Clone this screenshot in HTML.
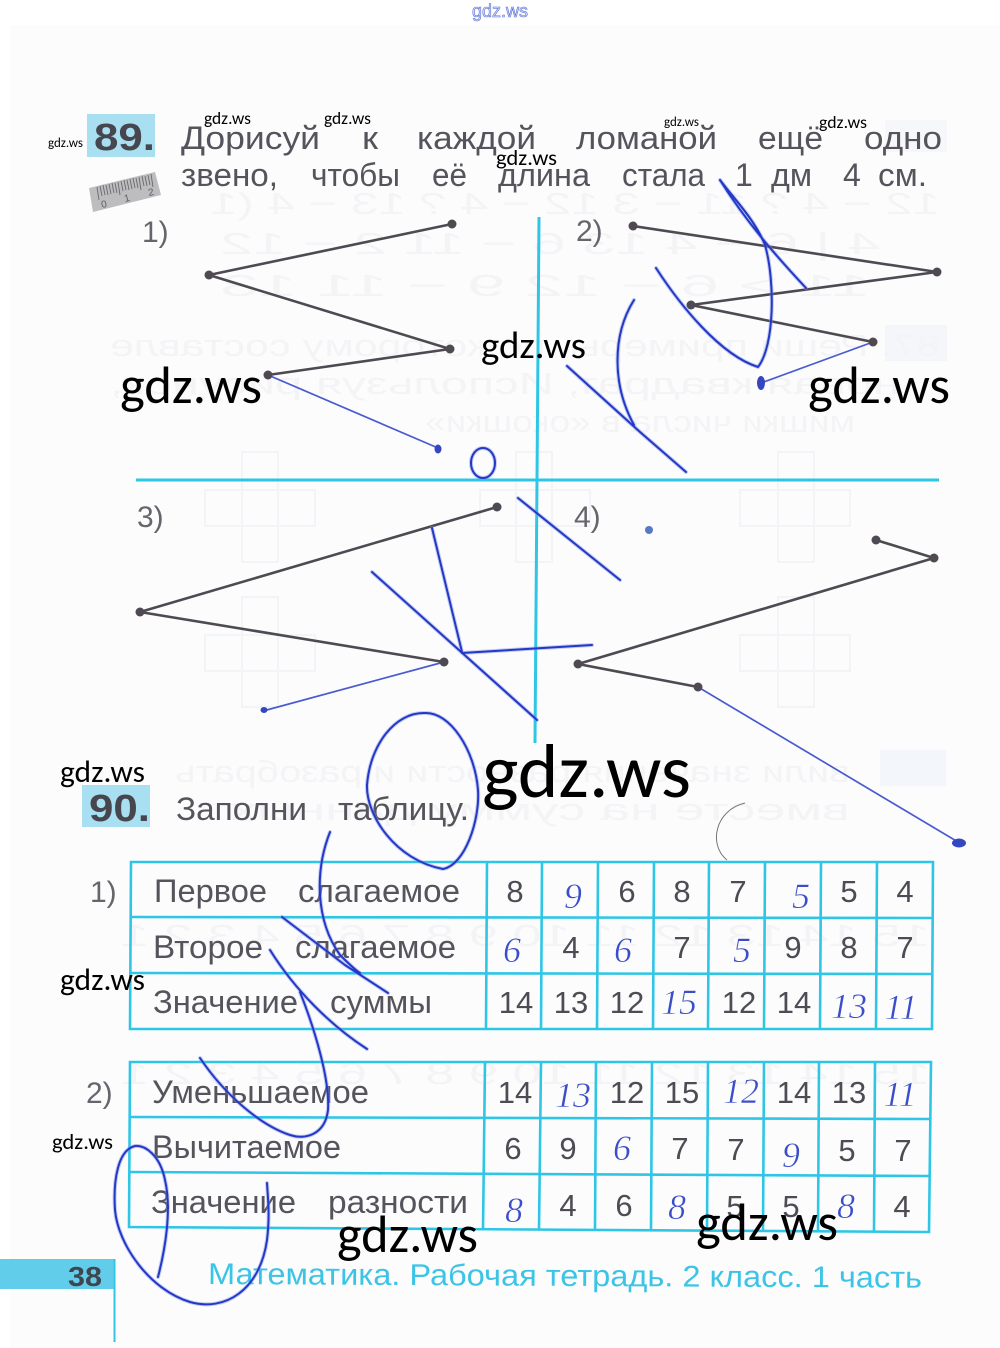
<!DOCTYPE html>
<html lang="ru"><head><meta charset="utf-8"><title>gdz.ws</title>
<style>
html,body{margin:0;padding:0;background:#fff}
svg{display:block}
text{font-family:"Liberation Sans",sans-serif}
.t{fill:#55545c;font-size:32px}
.n{fill:#4d4c54;font-size:31px;text-anchor:middle}
.h{fill:#3a4ec8;font-family:"Liberation Serif",serif;font-style:italic;font-size:36px;text-anchor:middle;stroke:#fdfdfe;stroke-width:.5}
.w{fill:#000;font-family:"Carlito","Liberation Sans",sans-serif}
.g{fill:#f4f4f6;font-size:31px}
.cy{stroke:#2fc6e6;fill:none}
.bk{stroke:#4f4a52;stroke-width:2.6;fill:none;stroke-linejoin:round}
.bl{stroke:#4a5bd0;stroke-width:1.7;fill:none}
</style></head><body>
<svg xmlns="http://www.w3.org/2000/svg" width="1000" height="1348" viewBox="0 0 1000 1348">
<defs>
<g id="scr" fill="none" stroke-linecap="round" stroke-linejoin="round">
<path d="M656,268C680,305 720,355 758,367C775,345 775,280 765,245C755,220 735,200 720,180"/>
<path d="M720,180C745,220 775,255 806,288"/>
<path d="M634,300C612,335 612,385 634,425"/>
<path d="M567,366L640,432L686,472"/>
<path d="M518,498L620,580"/>
<path d="M432,528L462,652"/>
<path d="M372,572L537,720"/>
<path d="M462,653L592,645"/>
<path d="M425,713C395,712 370,745 367,785C366,815 395,860 443,869C465,865 480,820 478,790C475,750 450,712 425,713"/>
<path d="M330,832C315,870 315,920 340,955C345,960 355,970 360,973"/>
<path d="M282,917L345,965L388,993"/>
<path d="M270,950C295,990 330,1025 367,1049"/>
<path d="M300,992C315,1030 330,1080 328,1110C325,1135 305,1140 290,1135C260,1125 225,1095 200,1058"/>
<path d="M158,1277C165,1250 172,1210 165,1180C160,1155 145,1145 135,1146C118,1150 113,1180 115,1210C118,1245 150,1290 190,1302C225,1312 260,1290 267,1240C270,1215 268,1200 267,1183"/>
<ellipse cx="483" cy="463" rx="12" ry="15"/>
</g>
</defs>

<rect width="1000" height="1348" fill="#fff"/>
<rect x="10" y="25" width="990" height="1323" fill="#fcfcfd"/>

<!-- show-through from reverse side -->
<rect x="885" y="120" width="62" height="32" fill="#f5f7fa"/>
<rect x="885" y="325" width="62" height="36" fill="#f4f6fa"/>
<rect x="880" y="750" width="66" height="36" fill="#f3f6fa"/>
<g transform="translate(1000,0) scale(-1,1)">
<text class="g" x="60" y="214" textLength="730" lengthAdjust="spacingAndGlyphs">12 − 4 ? 11 − 3   12 − 4 ? 13 − 4 (1</text>
<text class="g" x="120" y="254" textLength="660" lengthAdjust="spacingAndGlyphs">4 | 6 − 4   13   6 − 11   2 − 12</text>
<text class="g" x="130" y="296" textLength="650" lengthAdjust="spacingAndGlyphs">11 &gt; 6 − 12   9 − 11   13</text>
<text class="g" x="60" y="356" textLength="830" lengthAdjust="spacingAndGlyphs">87.  Реши примеры, по которому составле</text>
<text class="g" x="100" y="394" textLength="790" lengthAdjust="spacingAndGlyphs">новая квадрат, Используя рисунок,</text>
<text class="g" x="145" y="432" textLength="430" lengthAdjust="spacingAndGlyphs">мишки числа в «окошки»</text>
<text class="g" x="150" y="782" textLength="675" lengthAdjust="spacingAndGlyphs">вили значения разности и разобрать</text>
<text class="g" x="150" y="820" textLength="620" lengthAdjust="spacingAndGlyphs">вместе на сумму данных</text>
<text class="g" x="70" y="946" textLength="810" lengthAdjust="spacingAndGlyphs">15 14 13 12 11 10 9 8 7 6 5 4 3 2 1</text>
<text class="g" x="70" y="1084" textLength="810" lengthAdjust="spacingAndGlyphs">15 14 13 12 11 10 9 8 7 6 5 4 3 2 1</text>
</g>
<g fill="none" stroke="#f3f4f8" stroke-width="2">
<rect x="205" y="490" width="110" height="36"/><rect x="242" y="452" width="36" height="110"/>
<rect x="480" y="490" width="110" height="36"/><rect x="516" y="452" width="36" height="110"/>
<rect x="740" y="490" width="110" height="36"/><rect x="778" y="452" width="36" height="110"/>
<rect x="205" y="635" width="110" height="36"/><rect x="242" y="597" width="36" height="110"/>
<rect x="740" y="635" width="110" height="36"/><rect x="778" y="597" width="36" height="110"/>
</g>

<!-- header watermark -->
<text x="472" y="17" font-size="18" textLength="56" lengthAdjust="spacingAndGlyphs" fill="#d7ddf6" stroke="#5a6fd8" stroke-width=".6">gdz.ws</text>

<!-- 89 -->
<rect x="87" y="114" width="68" height="43" fill="#a8e0f2"/>
<text x="94" y="150" font-size="38" font-weight="700" fill="#47464f" textLength="61" lengthAdjust="spacingAndGlyphs">89.</text>
<text class="t" x="181" y="149" textLength="139" lengthAdjust="spacingAndGlyphs">Дорисуй</text>
<text class="t" x="362" y="149" textLength="16" lengthAdjust="spacingAndGlyphs">к</text>
<text class="t" x="417" y="149" textLength="119" lengthAdjust="spacingAndGlyphs">каждой</text>
<text class="t" x="576" y="149" textLength="141" lengthAdjust="spacingAndGlyphs">ломаной</text>
<text class="t" x="758" y="149" textLength="65" lengthAdjust="spacingAndGlyphs">ещё</text>
<text class="t" x="864" y="149" textLength="78" lengthAdjust="spacingAndGlyphs">одно</text>
<text class="t" x="181" y="186" textLength="97" lengthAdjust="spacingAndGlyphs">звено,</text>
<text class="t" x="311" y="186" textLength="89" lengthAdjust="spacingAndGlyphs">чтобы</text>
<text class="t" x="432" y="186" textLength="35" lengthAdjust="spacingAndGlyphs">её</text>
<text class="t" x="498" y="186" textLength="92" lengthAdjust="spacingAndGlyphs">длина</text>
<text class="t" x="622" y="186" textLength="83" lengthAdjust="spacingAndGlyphs">стала</text>
<text class="t" x="735" y="186">1</text>
<text class="t" x="771" y="186" textLength="41" lengthAdjust="spacingAndGlyphs">дм</text>
<text class="t" x="843" y="186">4</text>
<text class="t" x="878" y="186" textLength="49" lengthAdjust="spacingAndGlyphs">см.</text>

<!-- ruler -->
<polygon points="89,188 155,172 161,195 93,212" fill="#bdbcbe"/>
<path d="M97,187l2,13M100,186l2,10M103,185l2,10M106,185l2,10M109,184l2,10M112,183l2,10M115,183l2,10M118,182l2,13M121,181l2,10M124,180l2,10M127,180l2,10M130,179l2,10M133,178l2,10M136,178l2,10M139,177l2,13M142,176l2,10M145,176l2,10M148,175l2,10M151,174l2,13" stroke="#6a696e" stroke-width=".9" fill="none"/>
<text x="102" y="208" font-size="10" fill="#5c5b60" transform="rotate(-13 102 208)">0</text>
<text x="125" y="202" font-size="10" fill="#5c5b60" transform="rotate(-13 125 202)">1</text>
<text x="149" y="196" font-size="10" fill="#5c5b60" transform="rotate(-13 149 196)">2</text>

<!-- labels -->
<g fill="#66656c" font-size="30">
<text x="142" y="242">1)</text>
<text x="576" y="241">2)</text>
<text x="137" y="527">3)</text>
<text x="574" y="527">4)</text>
</g>

<!-- axes -->
<path class="cy" stroke-width="3" d="M539,217L535,743"/>
<path class="cy" stroke-width="3" d="M136,480L939,480"/>

<!-- polylines -->
<path class="bl" d="M268,375L438,448"/>
<path class="bl" d="M873,342L761,383"/>
<path class="bl" d="M444,662L263,711"/>
<path class="bl" d="M698,687L958,842"/>
<polyline class="bk" points="452,224 209,275 450,349 268,375"/>
<polyline class="bk" points="633,226 937,272 691,305 873,342"/>
<polyline class="bk" points="497,507 140,612 444,662"/>
<polyline class="bk" points="876,540 934,558 578,664 698,687"/>
<g fill="#4f4a52">
<circle cx="452" cy="224" r="4.5"/><circle cx="209" cy="275" r="4.5"/><circle cx="450" cy="349" r="4.5"/><circle cx="268" cy="375" r="4.5"/>
<circle cx="633" cy="226" r="4.5"/><circle cx="937" cy="272" r="4.5"/><circle cx="691" cy="305" r="4.5"/><circle cx="873" cy="342" r="4.5"/>
<circle cx="497" cy="507" r="4.5"/><circle cx="140" cy="612" r="4.5"/><circle cx="444" cy="662" r="4.5"/>
<circle cx="876" cy="540" r="4.5"/><circle cx="934" cy="558" r="4.5"/><circle cx="578" cy="664" r="4.5"/><circle cx="698" cy="687" r="4.5"/>
</g>
<g fill="#3547c0">
<ellipse cx="438" cy="449" rx="3.5" ry="4.5"/>
<ellipse cx="761" cy="383" rx="4" ry="7"/>
<ellipse cx="264" cy="710" rx="3.5" ry="3"/>
<ellipse cx="959" cy="843" rx="7" ry="4.5"/>
<circle cx="649" cy="530" r="4" fill="#5a78c8"/>
</g>
<path d="M745,803C715,810 708,845 727,860" fill="none" stroke="#77767c" stroke-width="1"/>

<!-- 90 -->
<rect x="82" y="785" width="68" height="42" fill="#a8e0f2"/>
<text x="89" y="821" font-size="38" font-weight="700" fill="#47464f" textLength="61" lengthAdjust="spacingAndGlyphs">90.</text>
<text class="t" x="176" y="820" textLength="131" lengthAdjust="spacingAndGlyphs">Заполни</text>
<text class="t" x="338" y="820" textLength="131" lengthAdjust="spacingAndGlyphs">таблицу.</text>
<g fill="#66656c" font-size="30">
<text x="90" y="902">1)</text>
<text x="86" y="1103">2)</text>
</g>

<!-- table 1 -->
<g class="cy" stroke-width="2.6">
<path d="M131,862L933,862L932,1029L130,1029Z"/>
<path d="M131,917L933,918M130,973L932,974"/>
<path d="M487,862L486,1029M542,862L541,1029M598,862L597,1029M654,862L653,1029M709,862L708,1029M765,862L764,1029M821,862L820,1029M877,862L876,1029"/>
</g>
<text class="t" x="154" y="902" textLength="113" lengthAdjust="spacingAndGlyphs">Первое</text>
<text class="t" x="298" y="902" textLength="162" lengthAdjust="spacingAndGlyphs">слагаемое</text>
<text class="t" x="153" y="958" textLength="110" lengthAdjust="spacingAndGlyphs">Второе</text>
<text class="t" x="295" y="958" textLength="161" lengthAdjust="spacingAndGlyphs">слагаемое</text>
<text class="t" x="153" y="1013" textLength="145" lengthAdjust="spacingAndGlyphs">Значение</text>
<text class="t" x="330" y="1013" textLength="102" lengthAdjust="spacingAndGlyphs">суммы</text>

<text class="n" x="515" y="902">8</text><text class="h" x="573" y="908">9</text><text class="n" x="627" y="902">6</text><text class="n" x="682" y="902">8</text><text class="n" x="738" y="902">7</text><text class="h" x="801" y="908">5</text><text class="n" x="849" y="902">5</text><text class="n" x="905" y="902">4</text>
<text class="h" x="512" y="962">6</text><text class="n" x="571" y="958">4</text><text class="h" x="623" y="962">6</text><text class="n" x="682" y="958">7</text><text class="h" x="742" y="962">5</text><text class="n" x="793" y="958">9</text><text class="n" x="849" y="958">8</text><text class="n" x="905" y="958">7</text>
<text class="n" x="516" y="1013">14</text><text class="n" x="571" y="1013">13</text><text class="n" x="627" y="1013">12</text><text class="h" x="679" y="1014">15</text><text class="n" x="739" y="1013">12</text><text class="n" x="794" y="1013">14</text><text class="h" x="849" y="1018">13</text><text class="h" x="901" y="1019">11</text>

<!-- table 2 -->
<g class="cy" stroke-width="2.6">
<path d="M130,1062L931,1062L929,1232L129,1227Z"/>
<path d="M130,1117L931,1119M129,1172L930,1176"/>
<path d="M485,1062L483,1230M541,1062L539,1230M596,1062L595,1230M652,1062L651,1231M708,1062L707,1231M764,1062L763,1231M819,1062L818,1232M875,1062L874,1232"/>
</g>
<text class="t" x="152" y="1103" textLength="217" lengthAdjust="spacingAndGlyphs">Уменьшаемое</text>
<text class="t" x="152" y="1158" textLength="189" lengthAdjust="spacingAndGlyphs">Вычитаемое</text>
<text class="t" x="151" y="1213" textLength="145" lengthAdjust="spacingAndGlyphs">Значение</text>
<text class="t" x="328" y="1213" textLength="140" lengthAdjust="spacingAndGlyphs">разности</text>

<text class="n" x="515" y="1103">14</text><text class="h" x="573" y="1107">13</text><text class="n" x="627" y="1103">12</text><text class="n" x="682" y="1103">15</text><text class="h" x="741" y="1103">12</text><text class="n" x="794" y="1103">14</text><text class="n" x="849" y="1103">13</text><text class="h" x="900" y="1106">11</text>
<text class="n" x="513" y="1159">6</text><text class="n" x="568" y="1159">9</text><text class="h" x="622" y="1160">6</text><text class="n" x="680" y="1159">7</text><text class="n" x="736" y="1160">7</text><text class="h" x="791" y="1167">9</text><text class="n" x="847" y="1161">5</text><text class="n" x="903" y="1161">7</text>
<text class="h" x="514" y="1222">8</text><text class="n" x="568" y="1216">4</text><text class="n" x="624" y="1216">6</text><text class="h" x="677" y="1219">8</text><text class="n" x="735" y="1217">5</text><text class="n" x="791" y="1217">5</text><text class="h" x="846" y="1218">8</text><text class="n" x="902" y="1217">4</text>

<!-- footer -->
<rect x="0" y="1259" width="114" height="30" fill="#62cdea"/>
<path class="cy" stroke-width="2" d="M114.500,1259L114.500,1342"/>
<text x="68" y="1286" font-size="28" font-weight="700" fill="#3f4650" textLength="34" lengthAdjust="spacingAndGlyphs">38</text>
<text x="208" y="1284" font-size="30" fill="#3cc4e6" textLength="714" lengthAdjust="spacingAndGlyphs" transform="rotate(.3 208 1284)">Математика. Рабочая тетрадь. 2 класс. 1 часть</text>

<!-- handwriting strokes -->
<use href="#scr" stroke="#7f90e2" stroke-width="4" opacity=".45"/>
<use href="#scr" stroke="#2338c6" stroke-width="2"/>

<!-- watermarks -->
<text class="w" x="204" y="124" font-size="17" textLength="47" lengthAdjust="spacingAndGlyphs">gdz.ws</text>
<text class="w" x="324" y="124" font-size="17" textLength="47" lengthAdjust="spacingAndGlyphs">gdz.ws</text>
<text class="w" x="48" y="147" font-size="13" textLength="35" lengthAdjust="spacingAndGlyphs">gdz.ws</text>
<text class="w" x="664" y="126" font-size="13" textLength="35" lengthAdjust="spacingAndGlyphs">gdz.ws</text>
<text class="w" x="819" y="128" font-size="17" textLength="48" lengthAdjust="spacingAndGlyphs">gdz.ws</text>
<text class="w" x="496" y="165" font-size="22" textLength="61" lengthAdjust="spacingAndGlyphs">gdz.ws</text>
<text class="w" x="120" y="403" font-size="52" textLength="142" lengthAdjust="spacingAndGlyphs">gdz.ws</text>
<text class="w" x="808" y="403" font-size="52" textLength="142" lengthAdjust="spacingAndGlyphs">gdz.ws</text>
<text class="w" x="481" y="358" font-size="38" textLength="105" lengthAdjust="spacingAndGlyphs">gdz.ws</text>
<text class="w" x="482" y="797" font-size="76" textLength="209" lengthAdjust="spacingAndGlyphs">gdz.ws</text>
<text class="w" x="60" y="782" font-size="31" textLength="85" lengthAdjust="spacingAndGlyphs">gdz.ws</text>
<text class="w" x="60" y="990" font-size="31" textLength="85" lengthAdjust="spacingAndGlyphs">gdz.ws</text>
<text class="w" x="52" y="1149" font-size="22" textLength="61" lengthAdjust="spacingAndGlyphs">gdz.ws</text>
<text class="w" x="337" y="1252" font-size="52" textLength="141" lengthAdjust="spacingAndGlyphs">gdz.ws</text>
<text class="w" x="696" y="1240" font-size="52" textLength="142" lengthAdjust="spacingAndGlyphs">gdz.ws</text>
</svg>
</body></html>
